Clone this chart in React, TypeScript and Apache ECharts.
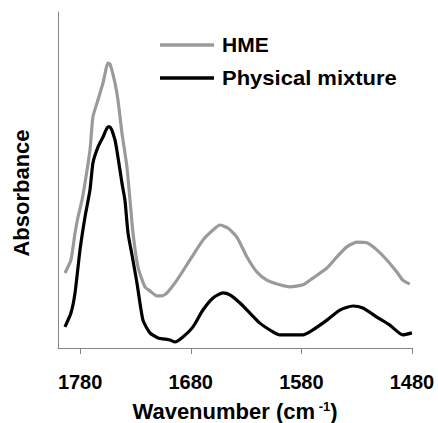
import React, { useEffect, useRef } from "react";
import * as echarts from "echarts";

// FTIR spectra, carbonyl / amide region (wavenumber in cm-1, absorbance in arbitrary units)
const hmeWavenumber = [
  1793.7, 1788.3, 1784.6, 1781.9, 1778.3, 1775.6, 1771.1, 1768.4, 1763.9, 1759.3,
  1754.8, 1753.0, 1748.5, 1745.8, 1742.2, 1737.7, 1734.9, 1732.2, 1727.7, 1721.4,
  1716.9, 1710.5, 1706.0, 1701.5, 1692.5, 1680.7, 1669.0, 1659.9, 1653.6, 1646.4,
  1638.3, 1629.2, 1620.2, 1611.2, 1599.4, 1590.4, 1578.6, 1569.6, 1556.9, 1547.9,
  1538.9, 1529.8, 1520.8, 1511.8, 1502.7, 1493.7, 1488.3, 1482.0,
];
const hmeAbsorbance = [
  0.223, 0.262, 0.342, 0.39, 0.44, 0.491, 0.589, 0.688, 0.738, 0.789,
  0.848, 0.845, 0.789, 0.738, 0.64, 0.539, 0.44, 0.342, 0.241, 0.182,
  0.17, 0.155, 0.155, 0.164, 0.202, 0.262, 0.321, 0.351, 0.366, 0.357,
  0.33, 0.271, 0.226, 0.202, 0.188, 0.182, 0.188, 0.208, 0.238, 0.271,
  0.301, 0.315, 0.313, 0.292, 0.262, 0.226, 0.202, 0.19,
];

const pmWavenumber = [
  1793.7, 1788.3, 1784.6, 1780.1, 1775.6, 1771.1, 1768.4, 1763.9, 1759.3, 1754.8,
  1753.0, 1748.5, 1745.8, 1742.2, 1739.5, 1736.7, 1733.1, 1728.6, 1723.2, 1716.9,
  1709.6, 1698.8, 1694.3, 1687.1, 1678.0, 1669.0, 1659.9, 1650.9, 1644.6, 1635.5,
  1626.5, 1617.5, 1605.7, 1599.4, 1590.4, 1578.6, 1569.6, 1556.9, 1545.2, 1533.4,
  1524.4, 1511.8, 1500.0, 1488.3, 1480.1,
];
const pmAbsorbance = [
  0.063, 0.104, 0.164, 0.292, 0.39, 0.47, 0.551, 0.598, 0.628, 0.658,
  0.658, 0.619, 0.568, 0.491, 0.44, 0.342, 0.277, 0.193, 0.083, 0.045,
  0.03, 0.024, 0.018, 0.033, 0.063, 0.113, 0.149, 0.164, 0.158, 0.134,
  0.104, 0.074, 0.048, 0.039, 0.039, 0.039, 0.054, 0.083, 0.113, 0.125,
  0.119, 0.092, 0.068, 0.039, 0.045,
];

const tickValues = [1480, 1580, 1680, 1780];

const seriesNames = ["HME", "Physical mixture"];
const seriesColors = ["#9a9a9a", "#000000"];

const FONT = "'Liberation Sans', Arial, sans-serif";

function pairs(xs: number[], ys: number[]) {
  return xs.map((x, i) => [x, ys[i]]);
}

export default function App() {
  const ref = useRef<HTMLDivElement>(null);

  useEffect(() => {
    if (!ref.current) return;
    const chart = echarts.init(ref.current, undefined, { renderer: "svg" });

    const legendRows = seriesNames.map((name, i) => {
      const y = 45 + i * 33;
      return [
        {
          type: "line",
          shape: { x1: 160, y1: y, x2: 214, y2: y },
          style: { stroke: seriesColors[i], lineWidth: 3.5 },
        },
        {
          type: "text",
          x: 222,
          y: y,
          scaleX: i === 0 ? 1.05 : 1.1,
          style: {
            text: name,
            font: `bold 20px ${FONT}`,
            fill: "#000",
            align: "left",
            verticalAlign: "middle",
          },
        },
      ];
    }).flat();

    chart.setOption({
      animation: false,
      backgroundColor: "#fff",
      grid: { left: 58, right: 26, top: 12, bottom: 75, containLabel: false },
      xAxis: {
        type: "value",
        inverse: true,
        min: 1480,
        max: 1800,
        axisLine: { show: true, lineStyle: { color: "#868686", width: 1 } },
        axisTick: {
          show: true,
          length: 6,
          customValues: tickValues,
          lineStyle: { color: "#868686" },
        },
        axisLabel: {
          customValues: tickValues,
          formatter: (v: number) => String(v),
          margin: 24,
          color: "#000",
          fontFamily: FONT,
          fontWeight: "bold",
          fontSize: 20,
        },
        splitLine: { show: false },
      },
      yAxis: {
        type: "value",
        min: 0,
        max: 1,
        axisLine: { show: true, lineStyle: { color: "#868686", width: 1 } },
        axisTick: { show: false },
        axisLabel: { show: false },
        splitLine: { show: false },
      },
      series: [
        {
          name: seriesNames[0],
          type: "line",
          data: pairs(hmeWavenumber, hmeAbsorbance),
          showSymbol: false,
          smooth: 0.2,
          lineStyle: { color: seriesColors[0], width: 3.2 },
          itemStyle: { color: seriesColors[0] },
        },
        {
          name: seriesNames[1],
          type: "line",
          data: pairs(pmWavenumber, pmAbsorbance),
          showSymbol: false,
          smooth: 0.2,
          lineStyle: { color: seriesColors[1], width: 3.2 },
          itemStyle: { color: seriesColors[1] },
        },
      ],
      graphic: [
        ...legendRows,
        {
          type: "text",
          x: 21,
          y: 193,
          rotation: Math.PI / 2,
          style: {
            text: "Absorbance",
            font: `bold 22px ${FONT}`,
            fill: "#000",
            align: "center",
            verticalAlign: "middle",
          },
        },
        {
          type: "text",
          x: 235,
          y: 411,
          style: {
            text: "{a|Wavenumber (cm}{s| -1}{a|)}",
            align: "center",
            verticalAlign: "middle",
            rich: {
              a: { font: `bold 22px ${FONT}`, fill: "#000", verticalAlign: "bottom" },
              s: { font: `bold 13px ${FONT}`, fill: "#000", verticalAlign: "top" },
            },
          },
        },
      ],
    });

    return () => chart.dispose();
  }, []);

  return (
    <div
      ref={ref}
      style={{ position: "fixed", left: 0, top: 0, width: 438, height: 423 }}
    />
  );
}
